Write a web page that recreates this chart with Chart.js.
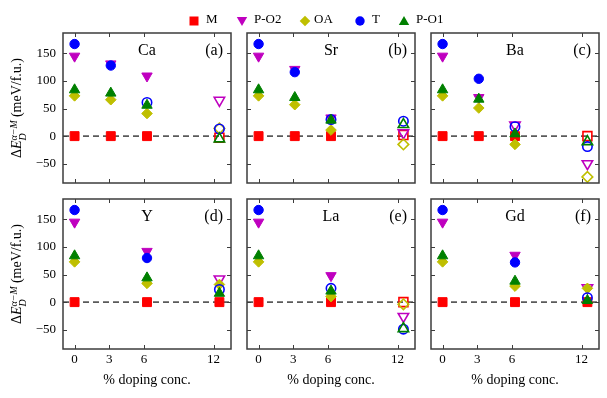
<!DOCTYPE html>
<html>
<head>
<meta charset="utf-8">
<script src="https://cdn.jsdelivr.net/npm/chart.js@4.4.0/dist/chart.umd.min.js"></script>
<style>
  html, body { margin: 0; padding: 0; background: #fff; }
  #fig { position: relative; width: 607px; height: 398px; overflow: hidden; font-family: "Liberation Serif", serif; color: #000; }
  #fig canvas { position: absolute; }
  .ytitle { position: absolute; transform: translate(-50%, -50%) rotate(-90deg); white-space: nowrap; font-size: 14px; }
  .ss { display: inline-flex; flex-direction: column; font-size: 10px; line-height: 9px; vertical-align: middle; font-style: italic; margin-right: 3px; }
  .xtitle { position: absolute; transform: translateX(-50%); white-space: nowrap; font-size: 14px; }
  .leg { position: absolute; font-size: 13px; line-height: 14px; white-space: nowrap; }
  .legm { position: absolute; }
</style>
</head>
<body>
<div id="fig"></div>
<script>
// x positions of the calculations and the tick labels shown
const concs = [0, 3.125, 6.25, 12.5]
const xTicks = [0, 3, 6, 12]
const yTicks = [-50, 0, 50, 100, 150]

const seriesNames = ["M", "P-O2", "OA", "T", "P-O1"]
const dopants = ["Ca", "Sr", "Ba", "Y", "La", "Gd"]
const tags = ["(a)", "(b)", "(c)", "(d)", "(e)", "(f)"]

// rows follow seriesNames, columns follow concs (meV/f.u.)
const ca = [[0, 0, 0, -3], [145, 131, 109, 65], [73, 66, 41, 14], [167, 128, 61, 13], [84, 78, 56, -5]]
const sr = [[0, 0, 0, 2], [145, 121, 33, 6], [73, 57, 11, -15], [167, 116, 30, 27], [84, 70, 29, 21]]
const ba = [[0, 0, 0, 0], [145, 70, 20, -50], [73, 51, -15, -74], [167, 104, 17, -19], [84, 67, 4, -10]]
const y_ = [[0, null, 0, 0], [145, null, 92, 42], [73, null, 34, 32], [167, null, 80, 23], [84, null, 44, 16]]
const la = [[0, null, 0, 0], [145, null, 48, -26], [73, null, 10, -4], [167, null, 25, -49], [84, null, 20, -48]]
const gd = [[0, null, 0, 0], [145, null, 85, 26], [73, null, 29, 25], [167, null, 72, 8], [84, null, 38, 3]]

// 1 = hollow marker
const caOpen = [[0, 0, 0, 1], [0, 0, 0, 1], [0, 0, 0, 1], [0, 0, 1, 1], [0, 0, 0, 1]]
const srOpen = [[0, 0, 0, 1], [0, 0, 0, 1], [0, 0, 0, 1], [0, 0, 1, 1], [0, 0, 0, 1]]
const baOpen = [[0, 0, 0, 1], [0, 0, 1, 1], [0, 0, 0, 1], [0, 0, 1, 1], [0, 0, 0, 1]]
const yOpen = [[0, 0, 0, 0], [0, 0, 0, 1], [0, 0, 0, 0], [0, 0, 0, 1], [0, 0, 0, 0]]
const laOpen = [[0, 0, 0, 1], [0, 0, 0, 1], [0, 0, 0, 1], [0, 0, 1, 1], [0, 0, 0, 1]]
const gdOpen = [[0, 0, 0, 0], [0, 0, 0, 1], [0, 0, 0, 0], [0, 0, 0, 1], [0, 0, 0, 0]]

const panelValues = [ca, sr, ba, y_, la, gd]
const panelOpen = [caOpen, srOpen, baOpen, yOpen, laOpen, gdOpen]

const colors = ["#ff0000", "#bf00bf", "#bfbf00", "#0000ff", "#008000"]
const markers = ["rect", "triangle", "rectRot", "circle", "triangle"]
const rotations = [0, 180, 0, 0, 0]
const sizes = [6.3, 6, 5.3, 4.7, 6]

const panelLefts = [63, 247, 431]
const panelTops = [33, 199]
const plotW = 168, plotH = 150
const padL = 45, padT = 5, padR = 6, padB = 26
const frameColor = "#3c3c3c"
const fontFam = "'Liberation Serif', serif"

const fig = document.getElementById("fig")

// no extra room for half-labels at the ends, keeps every plot box the same size
function noEdgePadding(s) {
  s.paddingTop = 0
  s.paddingBottom = 0
  s.paddingLeft = 0
  s.paddingRight = 0
}

const framePlugin = {
  id: "frame",
  beforeDatasetsDraw(chart) {
    const { ctx, chartArea: a, scales: { y } } = chart
    const y0 = y.getPixelForValue(0)
    ctx.save()
    ctx.strokeStyle = "#5a5a5a"
    ctx.lineWidth = 1.6
    ctx.setLineDash([6, 4])
    ctx.beginPath()
    ctx.moveTo(a.left, y0)
    ctx.lineTo(a.right, y0)
    ctx.stroke()
    ctx.restore()
  },
  afterDraw(chart) {
    const { ctx, chartArea: a, scales: { x, y } } = chart
    const opts = chart.options.plugins.frame
    ctx.save()
    ctx.strokeStyle = frameColor
    ctx.lineWidth = 1
    ctx.beginPath()
    xTicks.forEach(v => {
      const px = Math.round(x.getPixelForValue(v)) + 0.5
      ctx.moveTo(px, a.bottom); ctx.lineTo(px, a.bottom - 4)
      ctx.moveTo(px, a.top); ctx.lineTo(px, a.top + 4)
    })
    yTicks.forEach(v => {
      const py = Math.round(y.getPixelForValue(v)) + 0.5
      ctx.moveTo(a.left, py); ctx.lineTo(a.left + 4, py)
      ctx.moveTo(a.right, py); ctx.lineTo(a.right - 4, py)
    })
    ctx.stroke()
    ctx.lineWidth = 1.5
    ctx.strokeRect(a.left, a.top, a.right - a.left, a.bottom - a.top)

    ctx.fillStyle = "#000"
    ctx.font = "16px " + fontFam
    ctx.textBaseline = "middle"
    ctx.textAlign = "center"
    ctx.fillText(opts.name, a.left + (a.right - a.left) * 0.5, a.top + 18)
    ctx.textAlign = "right"
    ctx.fillText(opts.tag, a.right - 8, a.top + 18)
    ctx.restore()
  }
}

function makePanel(k) {
  const row = Math.floor(k / 3), col = k % 3
  const vals = panelValues[k], open = panelOpen[k]
  const canvas = document.createElement("canvas")
  canvas.width = padL + plotW + padR
  canvas.height = padT + plotH + padB
  canvas.style.left = (panelLefts[col] - padL) + "px"
  canvas.style.top = (panelTops[row] - padT) + "px"
  fig.appendChild(canvas)

  const datasets = seriesNames.map((name, i) => ({
    label: name,
    data: concs.map((c, j) => ({ x: c, y: vals[i][j] })),
    pointStyle: markers[i],
    rotation: rotations[i],
    pointRadius: sizes[i],
    borderColor: colors[i],
    pointBackgroundColor: open[i].map(o => o ? "rgba(255,255,255,0)" : colors[i]),
    pointBorderWidth: open[i].map(o => o ? 1.6 : 1),
    showLine: false,
    order: 5 - i
  }))

  new Chart(canvas, {
    type: "scatter",
    data: { datasets },
    plugins: [framePlugin],
    options: {
      responsive: false,
      animation: false,
      devicePixelRatio: 1,
      layout: { padding: { left: 0, top: padT, right: padR, bottom: 0 }, autoPadding: false },
      clip: false,
      plugins: {
        legend: { display: false },
        tooltip: { enabled: false },
        frame: { name: dopants[k], tag: tags[k] }
      },
      scales: {
        x: {
          type: "linear",
          min: -1, max: 13.5,
          afterBuildTicks: s => { s.ticks = xTicks.map(v => ({ value: v })) },
          afterFit: s => { s.height = padB; noEdgePadding(s) },
          grid: { display: false, drawTicks: false },
          border: { display: false },
          ticks: { display: row === 1, autoSkip: false, maxRotation: 0, padding: 3, color: "#000", font: { family: fontFam, size: 13 } }
        },
        y: {
          type: "linear",
          min: -85, max: 187,
          afterBuildTicks: s => { s.ticks = yTicks.map(v => ({ value: v })) },
          afterFit: s => { s.width = padL; noEdgePadding(s) },
          grid: { display: false, drawTicks: false },
          border: { display: false },
          ticks: {
            display: col === 0, autoSkip: false, padding: 7, color: "#000",
            font: { family: fontFam, size: 13 },
            callback: v => v < 0 ? "\u2212" + Math.abs(v) : String(v)
          }
        }
      }
    }
  })
}

for (let k = 0; k < 6; k++) makePanel(k)

// axis titles
panelTops.forEach(t => {
  const d = document.createElement("div")
  d.className = "ytitle"
  d.style.left = "18px"
  d.style.top = (t + plotH / 2) + "px"
  d.innerHTML = 'Δ<i>E</i><span class="ss"><span>α\u2212M</span><span>D</span></span>(meV/f.u.)'
  fig.appendChild(d)
})
panelLefts.forEach(l => {
  const d = document.createElement("div")
  d.className = "xtitle"
  d.style.left = (l + plotW / 2) + "px"
  d.style.top = "372px"
  d.textContent = "% doping conc."
  fig.appendChild(d)
})

// legend row
const legMarkX = [194, 242, 305, 360, 404]
const legTextX = [206, 254, 314, 372, 416]
function markerSvg(i) {
  const c = colors[i]
  let shape = ""
  if (i === 0) shape = `<rect x="1.5" y="1.5" width="9" height="9" fill="${c}"/>`
  if (i === 1) shape = `<polygon points="0.8,2 11.2,2 6,11" fill="${c}"/>`
  if (i === 2) shape = `<polygon points="6,0.7 11.3,6 6,11.3 0.7,6" fill="${c}"/>`
  if (i === 3) shape = `<circle cx="6" cy="6" r="4.7" fill="${c}"/>`
  if (i === 4) shape = `<polygon points="6,1 11.2,10 0.8,10" fill="${c}"/>`
  return `<svg width="12" height="12" viewBox="0 0 12 12">${shape}</svg>`
}
seriesNames.forEach((name, i) => {
  const m = document.createElement("div")
  m.className = "legm"
  m.style.left = (legMarkX[i] - 6) + "px"
  m.style.top = "13px"
  m.innerHTML = markerSvg(i)
  fig.appendChild(m)
  const t = document.createElement("div")
  t.className = "leg"
  t.style.left = legTextX[i] + "px"
  t.style.top = "12px"
  t.textContent = name
  fig.appendChild(t)
})
</script>
</body>
</html>
